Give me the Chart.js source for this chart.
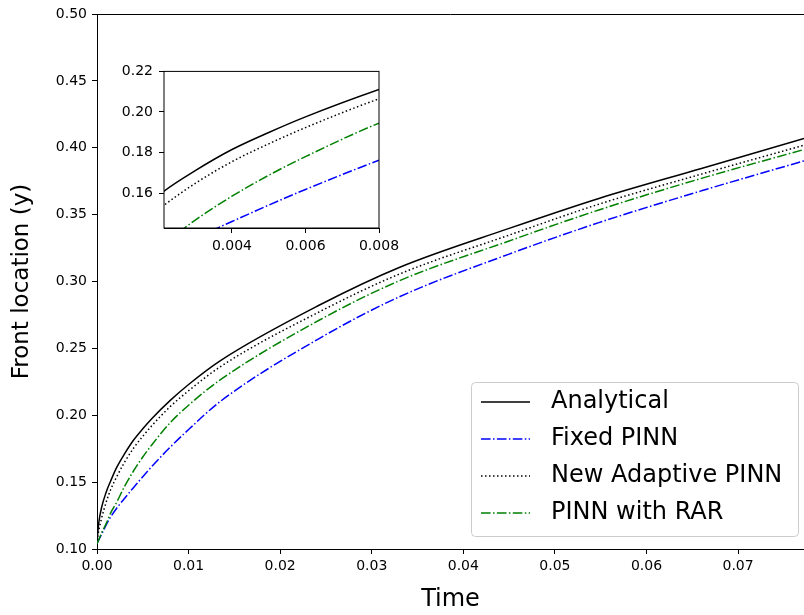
<!DOCTYPE html>
<html>
<head>
<meta charset="utf-8">
<script src="https://cdn.jsdelivr.net/npm/chart.js@4.4.1/dist/chart.umd.min.js"></script>
<style>
  html, body { margin: 0; padding: 0; background: #fff; }
  #wrap { position: relative; width: 804px; height: 615px; }
  #mainChart { position: absolute; left: 0; top: 0; }
  #insetChart { position: absolute; left: 110px; top: 57px; }
</style>
</head>
<body>
<div id="wrap">
  <canvas id="mainChart" width="804" height="615"></canvas>
  <canvas id="insetChart" width="300" height="200"></canvas>
</div>
<script>
// values
const timeValues = [0, 0.0002, 0.0005, 0.001, 0.0015, 0.00215, 0.003, 0.004, 0.005, 0.006, 0.008, 0.010, 0.0134, 0.0243, 0.033, 0.045, 0.0548, 0.066, 0.0772];
const analytical = [0.106, 0.120, 0.131, 0.1425, 0.151, 0.161, 0.1711, 0.1815, 0.1899, 0.1976, 0.2111, 0.2230, 0.2405, 0.2824, 0.3105, 0.3397, 0.3621, 0.3845, 0.4069];
const fixedPinn = [0.104, 0.107, 0.111, 0.118, 0.124, 0.1305, 0.1378, 0.146, 0.1541, 0.1618, 0.1762, 0.1893, 0.2100, 0.2575, 0.2885, 0.3205, 0.3440, 0.3678, 0.3902];
const adaptivePinn = [0.106, 0.114, 0.123, 0.135, 0.1445, 0.154, 0.1648, 0.1755, 0.1843, 0.1923, 0.2065, 0.2183, 0.2360, 0.2774, 0.3055, 0.3347, 0.3578, 0.3803, 0.4019];
const rarPinn = [0.104, 0.107, 0.112, 0.119, 0.127, 0.135, 0.1467, 0.1585, 0.1688, 0.1780, 0.1945, 0.2075, 0.2262, 0.2712, 0.3005, 0.3303, 0.3535, 0.3771, 0.3987];

const seriesLabels = ['Analytical', 'Fixed PINN', 'New Adaptive PINN', 'PINN with RAR'];

const xTicks = [0, 0.01, 0.02, 0.03, 0.04, 0.05, 0.06, 0.07];
const yTicks = [0.10, 0.15, 0.20, 0.25, 0.30, 0.35, 0.40, 0.45, 0.50];
const insetXTicks = [0.004, 0.006, 0.008];
const insetYTicks = [0.16, 0.18, 0.20, 0.22];

const FONT = 'DejaVu Sans';

function pts(ys) {
  return timeValues.map((t, i) => ({ x: t, y: ys[i] }));
}

function makeDatasets() {
  return [
    { label: seriesLabels[0], data: pts(analytical), borderColor: '#000000', borderWidth: 1.5, borderDash: [], order: 4 },
    { label: seriesLabels[1], data: pts(fixedPinn), borderColor: '#0000ff', borderWidth: 1.5, borderDash: [9.6, 2.4, 1.5, 2.4], order: 3 },
    { label: seriesLabels[2], data: pts(adaptivePinn), borderColor: '#000000', borderWidth: 1.5, borderDash: [1.5, 2.5], order: 2 },
    { label: seriesLabels[3], data: pts(rarPinn), borderColor: '#008000', borderWidth: 1.5, borderDash: [9.6, 2.4, 1.5, 2.4], order: 1 }
  ].map(d => Object.assign(d, { pointRadius: 0, fill: false, cubicInterpolationMode: 'monotone' }));
}

function axisStyle(extra) {
  return Object.assign({
    type: 'linear',
    border: { display: true, color: '#000', width: 1 },
    grid: { display: true, drawOnChartArea: false, drawTicks: true, tickLength: 5, tickColor: '#000', tickWidth: 1 },
  }, extra);
}

// top spine for the main plot, custom legend box
const mainExtras = {
  id: 'mainExtras',
  afterDraw(chart) {
    const ctx = chart.ctx;
    const a = chart.chartArea;
    ctx.save();
    ctx.strokeStyle = '#000';
    ctx.lineWidth = 1;
    ctx.beginPath();
    ctx.moveTo(a.left, a.top + 0.5);
    ctx.lineTo(a.right, a.top + 0.5);
    ctx.stroke();

    // legend
    const bx = 471, by = 382, bw = 327, bh = 154;
    ctx.fillStyle = 'rgba(255,255,255,0.8)';
    ctx.strokeStyle = '#cccccc';
    ctx.beginPath();
    ctx.roundRect(bx + 0.5, by + 0.5, bw, bh, 4);
    ctx.fill();
    ctx.stroke();
    const rows = [402, 439, 476, 513];
    ctx.font = '24px "' + FONT + '"';
    ctx.textBaseline = 'middle';
    ctx.textAlign = 'left';
    chart.data.datasets.forEach((ds, i) => {
      ctx.strokeStyle = ds.borderColor;
      ctx.lineWidth = ds.borderWidth;
      ctx.setLineDash(ds.borderDash);
      ctx.beginPath();
      ctx.moveTo(481, rows[i]);
      ctx.lineTo(530, rows[i]);
      ctx.stroke();
      ctx.setLineDash([]);
      ctx.fillStyle = '#000';
      ctx.fillText(ds.label, 551, rows[i]);
    });
    ctx.restore();
  }
};

new Chart(document.getElementById('mainChart'), {
  type: 'line',
  data: { datasets: makeDatasets() },
  options: {
    responsive: false,
    animation: false,
    devicePixelRatio: 1,
    layout: { padding: { left: 0, right: 0, top: 14, bottom: 0 } },
    plugins: { legend: { display: false }, tooltip: { enabled: false } },
    scales: {
      x: axisStyle({
        min: 0, max: 0.0772,
        afterBuildTicks: s => { s.ticks = xTicks.map(v => ({ value: v })); },
        afterFit: s => { s.height = 66; },
        ticks: { autoSkip: false, maxRotation: 0, padding: 4, color: '#000', font: { family: FONT, size: 14 }, callback: v => v.toFixed(2) },
        title: { display: true, text: 'Time', color: '#000', font: { family: FONT, size: 24 }, padding: { top: 0, bottom: 1 } }
      }),
      y: axisStyle({
        min: 0.10, max: 0.50,
        afterBuildTicks: s => { s.ticks = yTicks.map(v => ({ value: v })); },
        afterFit: s => { s.width = 97; },
        ticks: { autoSkip: false, padding: 5, color: '#000', font: { family: FONT, size: 14 }, callback: v => v.toFixed(2) },
        title: { display: true, text: 'Front location (y)', color: '#000', font: { family: FONT, size: 23 }, padding: { top: 8, bottom: 0 } }
      })
    }
  },
  plugins: [mainExtras]
});

// white background + full frame for the inset
const insetFrame = {
  id: 'insetFrame',
  beforeDatasetsDraw(chart) {
    const a = chart.chartArea;
    const ctx = chart.ctx;
    ctx.save();
    ctx.fillStyle = '#fff';
    ctx.fillRect(a.left, a.top, a.right - a.left, a.bottom - a.top);
    ctx.restore();
  },
  afterDraw(chart) {
    const a = chart.chartArea;
    const ctx = chart.ctx;
    ctx.save();
    ctx.strokeStyle = '#000';
    ctx.lineWidth = 1;
    ctx.strokeRect(a.left, a.top, a.right - a.left, a.bottom - a.top);
    ctx.restore();
  }
};

new Chart(document.getElementById('insetChart'), {
  type: 'line',
  data: { datasets: makeDatasets() },
  options: {
    responsive: false,
    animation: false,
    devicePixelRatio: 1,
    layout: { padding: { left: 0, right: 31, top: 11, bottom: 0 } },
    plugins: { legend: { display: false }, tooltip: { enabled: false } },
    scales: {
      x: axisStyle({
        min: 0.00215, max: 0.008,
        afterBuildTicks: s => { s.ticks = insetXTicks.map(v => ({ value: v })); },
        afterFit: s => { s.height = 29; },
        ticks: { autoSkip: false, maxRotation: 0, padding: 5, color: '#000', font: { family: FONT, size: 14 }, callback: v => v.toFixed(3) }
      }),
      y: axisStyle({
        min: 0.1428, max: 0.22,
        afterBuildTicks: s => { s.ticks = insetYTicks.map(v => ({ value: v })); },
        afterFit: s => { s.width = 54; },
        ticks: { autoSkip: false, padding: 6, color: '#000', font: { family: FONT, size: 14 }, callback: v => v.toFixed(2) }
      })
    }
  },
  plugins: [insetFrame]
});
</script>
</body>
</html>
